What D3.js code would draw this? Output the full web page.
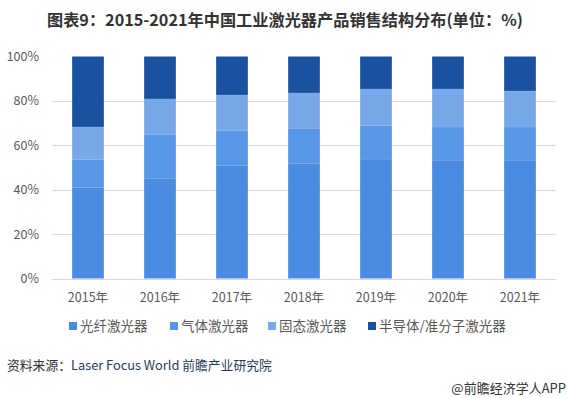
<!DOCTYPE html>
<html>
<head>
<meta charset="utf-8">
<script src="https://cdn.jsdelivr.net/npm/d3@7"></script>
<style>
  body { margin: 0; background: #fff; }
  svg { font-family: "Microsoft YaHei", "Noto Sans CJK SC", sans-serif; }
</style>
</head>
<body>
<div id="chart"></div>
<script>
const years = ["2015年", "2016年", "2017年", "2018年", "2019年", "2020年", "2021年"];
const seriesNames = ["光纤激光器", "气体激光器", "固态激光器", "半导体/准分子激光器"];
const fiber = [41.0, 44.9, 50.8, 51.7, 53.4, 53.0, 53.0];
const gas = [12.5, 19.8, 15.7, 15.7, 15.4, 15.2, 15.2];
const solid = [14.8, 16.2, 16.2, 16.2, 16.6, 17.2, 16.3];
const semi = [31.7, 19.1, 17.3, 16.4, 14.6, 14.6, 15.5];
const yTicks = [0, 20, 40, 60, 80, 100];

const colors = ["#4a8be2", "#5896e6", "#76a8ea", "#1a52a0"];

let width = 569;
let height = 398;

let svg = d3.select("#chart").append("svg")
  .attr("width", width)
  .attr("height", height);

// title
svg.append("text")
  .attr("x", 47)
  .attr("y", 26)
  .attr("font-size", 16.2)
  .attr("font-weight", "bold")
  .attr("fill", "#333")
  .text("图表9：2015-2021年中国工业激光器产品销售结构分布(单位：%)");

let rows = years.map((y, i) => ({
  year: y, s0: fiber[i], s1: gas[i], s2: solid[i], s3: semi[i]
}));

let stack = d3.stack().keys(["s0", "s1", "s2", "s3"]);
let layers = stack(rows);

let x = d3.scaleBand().domain(years).range([52, 556]).paddingInner(0.56).paddingOuter(0.28);
let y = d3.scaleLinear().domain([0, 100]).range([278.5, 56.5]);

// gridlines
svg.append("g")
  .selectAll("line")
  .data(yTicks.filter(d => d < 100))
  .enter().append("line")
  .attr("x1", 52).attr("x2", 556)
  .attr("y1", d => Math.round(y(d)) + 0.5)
  .attr("y2", d => Math.round(y(d)) + 0.5)
  .attr("stroke", "#d9d9d9")
  .attr("stroke-width", 1);

// y labels
svg.append("g")
  .selectAll("text")
  .data(yTicks)
  .enter().append("text")
  .attr("x", 39)
  .attr("y", d => y(d) + 4.5)
  .attr("text-anchor", "end")
  .attr("font-size", 12.5)
  .attr("fill", "#595959")
  .text(d => d + "%");

// bars
svg.append("g")
  .selectAll("g")
  .data(layers)
  .enter().append("g")
  .attr("fill", (d, i) => colors[i])
  .selectAll("rect")
  .data(d => d)
  .enter().append("rect")
  .attr("x", d => x(d.data.year))
  .attr("width", x.bandwidth())
  .attr("y", d => y(d[1]))
  .attr("height", d => y(d[0]) - y(d[1]));

// x labels
svg.append("g")
  .selectAll("text")
  .data(years)
  .enter().append("text")
  .attr("x", d => x(d) + x.bandwidth() / 2)
  .attr("y", 302)
  .attr("text-anchor", "middle")
  .attr("font-size", 12.5)
  .attr("fill", "#595959")
  .text(d => d);

// legend
const legendX = [69, 170, 268, 368];
let legend = svg.append("g")
  .selectAll("g")
  .data(seriesNames)
  .enter().append("g")
  .attr("transform", (d, i) => "translate(" + legendX[i] + ",322)");

legend.append("rect")
  .attr("width", 8)
  .attr("height", 8)
  .attr("fill", (d, i) => colors[i]);

legend.append("text")
  .attr("x", 11)
  .attr("y", 9)
  .attr("font-size", 13.5)
  .attr("fill", "#595959")
  .text(d => d);

// source
let src = svg.append("text")
  .attr("x", 7)
  .attr("y", 370)
  .attr("font-size", 12.8);
src.append("tspan").attr("fill", "#333").text("资料来源：");
src.append("tspan").attr("fill", "#1f3a60").text("Laser Focus World 前瞻产业研究院");

svg.append("text")
  .attr("x", 566)
  .attr("y", 393)
  .attr("text-anchor", "end")
  .attr("font-size", 13)
  .attr("fill", "#333")
  .text("@前瞻经济学人APP");
</script>
</body>
</html>
